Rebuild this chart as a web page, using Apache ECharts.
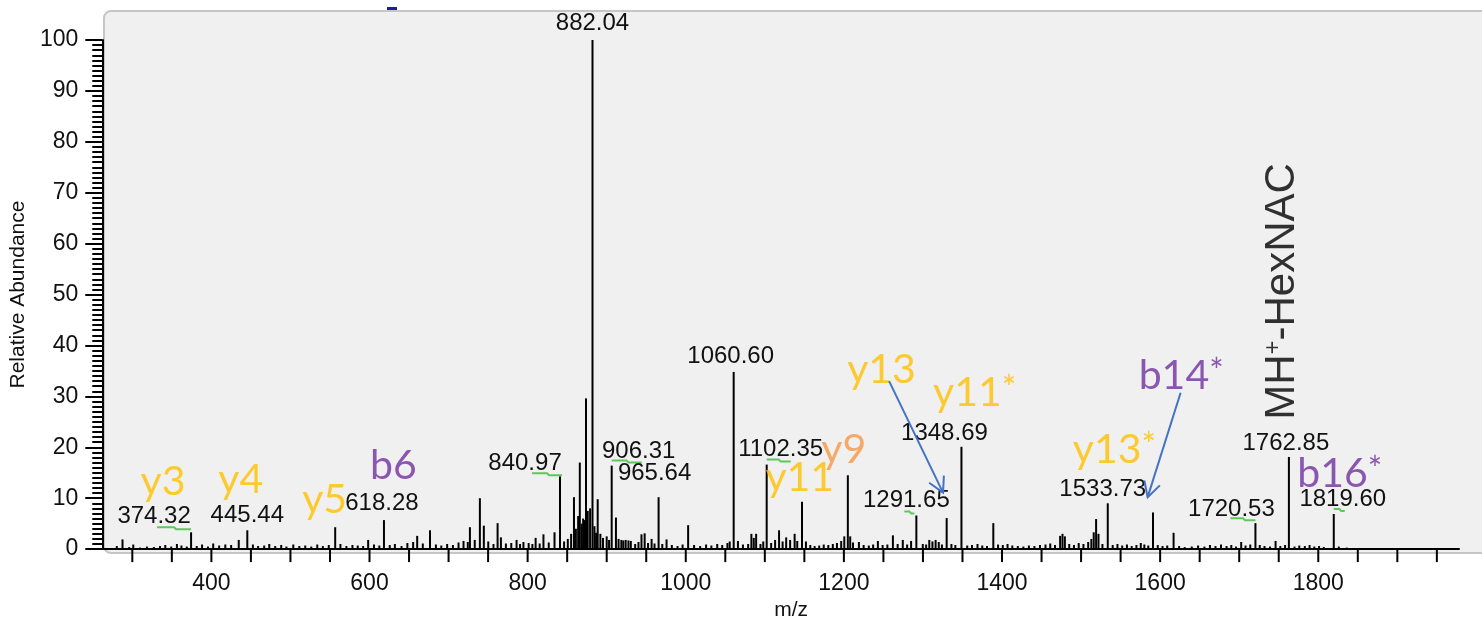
<!DOCTYPE html>
<html>
<head>
<meta charset="utf-8">
<script src="https://cdn.jsdelivr.net/npm/echarts@6/dist/echarts.min.js"></script>
<style>
  html, body { margin: 0; padding: 0; background: #fff; }
  #chart { width: 1482px; height: 626px; }
</style>
</head>
<body>
<div id="chart"></div>
<script>
(function() {
  'use strict';

  // unlabelled sticks: [m/z, relative abundance]
  var peaks = [
    [280.4, 0.6], [287.6, 1.9], [296.1, 0.4], [301.2, 0.9], [309.8, 0.3], [318.5, 0.5], [327.3, 0.4],
    [335.0, 0.6], [341.7, 0.8], [349.2, 0.5], [356.4, 1.0], [362.1, 0.7], [368.9, 0.5], [381.5, 0.6],
    [388.2, 0.9], [395.7, 0.5], [402.3, 1.1], [409.8, 0.7], [417.6, 0.9], [425.0, 0.8], [434.6, 1.8],
    [452.5, 0.9], [459.1, 0.6], [466.8, 0.7], [473.2, 1.0], [480.7, 0.6], [488.3, 0.8], [494.9, 0.5],
    [503.6, 0.9], [511.2, 0.6], [518.7, 0.7], [526.3, 0.5], [533.9, 0.9], [541.0, 0.6], [548.5, 0.8],
    [556.6, 4.3], [563.2, 1.0], [570.8, 0.6], [578.4, 0.8], [585.1, 0.7], [591.9, 0.6], [598.3, 1.8],
    [605.7, 0.9], [612.4, 0.7], [625.6, 0.8], [632.1, 1.0], [640.5, 0.6], [647.9, 1.2], [655.2, 1.4],
    [660.3, 2.6], [667.4, 1.1], [676.5, 3.7], [684.0, 0.9], [690.8, 0.7], [698.2, 1.0], [705.5, 0.8],
    [712.6, 1.3], [718.9, 1.6], [724.3, 1.4], [727.0, 4.3], [733.1, 1.8], [739.6, 10.0], [744.6, 4.6],
    [750.2, 1.5], [756.8, 1.0], [762.0, 5.1], [766.2, 2.3], [772.5, 1.1], [779.3, 1.2], [786.0, 1.8],
    [790.4, 1.0], [794.7, 1.4], [801.3, 1.2], [806.0, 1.0], [810.1, 2.2], [815.2, 1.1], [820.0, 2.9],
    [826.7, 1.3], [834.0, 3.3], [846.1, 1.5], [850.8, 2.0], [855.0, 3.0], [858.6, 10.2], [861.0, 4.0],
    [863.9, 6.5], [866.0, 17.0], [868.3, 5.0], [870.2, 6.0], [871.7, 5.7], [873.8, 29.6], [876.0, 7.5],
    [879.0, 8.0], [884.5, 4.5], [886.6, 3.2], [888.6, 9.8], [892.0, 3.0], [895.3, 2.2], [900.0, 2.5],
    [903.0, 1.8], [911.7, 6.2], [915.0, 2.0], [918.5, 1.8], [921.0, 1.7], [924.0, 1.8], [927.5, 1.7],
    [930.5, 1.6], [936.0, 1.0], [940.2, 1.4], [944.0, 2.9], [948.0, 3.1], [952.3, 1.2], [956.8, 2.0],
    [960.5, 1.1], [970.3, 1.0], [975.7, 1.9], [982.4, 0.8], [989.6, 0.6], [996.0, 0.9], [1003.0, 4.7],
    [1010.5, 0.8], [1018.2, 0.6], [1025.7, 0.9], [1032.4, 0.7], [1039.8, 1.0], [1046.1, 0.8], [1052.7, 1.2],
    [1055.6, 1.5], [1066.0, 1.6], [1072.3, 0.9], [1078.9, 1.0], [1083.0, 3.0], [1086.0, 2.2], [1089.0, 3.0],
    [1094.5, 1.0], [1098.0, 1.5], [1108.0, 1.2], [1113.0, 1.8], [1118.0, 3.7], [1122.5, 1.5], [1127.0, 2.3],
    [1132.0, 1.8], [1137.7, 3.0], [1141.0, 1.6], [1147.0, 9.3], [1152.0, 1.5], [1157.5, 0.8], [1163.0, 0.6],
    [1168.8, 0.7], [1174.5, 0.9], [1180.3, 0.8], [1186.0, 1.0], [1191.2, 1.2], [1196.6, 1.6], [1200.5, 2.5],
    [1205.0, 14.5], [1208.0, 2.5], [1211.5, 1.3], [1219.0, 1.4], [1225.0, 0.8], [1231.5, 0.7], [1237.0, 0.9],
    [1243.0, 1.6], [1249.0, 0.8], [1255.0, 0.9], [1262.0, 2.7], [1268.0, 1.0], [1274.5, 1.8], [1280.0, 0.9],
    [1285.0, 1.6], [1299.8, 1.0], [1304.0, 0.9], [1308.0, 1.8], [1312.0, 1.5], [1316.0, 1.8], [1320.0, 1.4],
    [1324.0, 0.9], [1330.0, 6.1], [1336.0, 1.0], [1341.0, 0.8], [1356.0, 0.7], [1362.0, 0.8], [1369.0, 1.0],
    [1375.0, 0.7], [1381.0, 0.6], [1389.0, 5.1], [1395.0, 0.9], [1401.0, 0.8], [1407.0, 1.0], [1413.0, 0.7],
    [1420.0, 0.6], [1427.0, 0.5], [1434.0, 0.7], [1441.0, 0.6], [1448.0, 0.8], [1455.0, 0.9], [1461.0, 1.1],
    [1467.0, 0.8], [1473.5, 2.6], [1476.5, 3.0], [1479.5, 2.5], [1485.0, 1.0], [1491.0, 0.8], [1497.0, 1.2],
    [1503.0, 1.0], [1509.0, 1.4], [1513.0, 2.0], [1516.0, 3.3], [1519.0, 5.9], [1522.0, 3.0], [1527.0, 1.0],
    [1540.0, 0.8], [1546.0, 1.0], [1552.0, 0.7], [1558.0, 0.9], [1564.0, 0.6], [1570.0, 0.8], [1575.5, 1.2],
    [1580.0, 0.9], [1585.0, 0.7], [1591.0, 7.2], [1597.0, 0.8], [1603.0, 0.6], [1609.0, 0.7], [1617.0, 3.2],
    [1624.0, 0.6], [1631.0, 0.4], [1640.0, 0.5], [1648.0, 0.7], [1656.0, 0.5], [1663.0, 0.8], [1670.0, 0.6],
    [1677.0, 0.9], [1684.0, 0.6], [1690.0, 0.8], [1696.0, 0.5], [1702.5, 1.4], [1708.0, 0.7], [1714.0, 0.9],
    [1726.0, 0.8], [1732.0, 0.6], [1739.0, 0.5], [1746.0, 1.6], [1752.0, 0.6], [1758.0, 0.8], [1770.0, 0.5],
    [1776.0, 0.7], [1783.0, 0.6], [1789.0, 0.8], [1795.0, 0.5], [1801.0, 0.6], [1807.0, 0.4], [1826.0, 0.5],
    [1836.0, 0.3], [1842.0, 0.2]
  ];

  // labelled sticks: [m/z, relative abundance]
  var labelled = [
    [374.32, 3.3], [445.44, 3.7], [618.28, 5.7], [840.97, 14.3], [882.04, 100], [906.31, 16.4],
    [965.64, 10.2], [1060.60, 34.8], [1102.35, 16.6], [1291.65, 6.6], [1348.69, 20.1], [1533.73, 9.0],
    [1720.53, 5.1], [1762.85, 18.1], [1819.60, 6.9]
  ];
  // where each mass label sits relative to its stick top (px)
  var labelShift = [
    [-37, -16], [0, -15], [-2, -17], [-35, -13], [0, -17], [27, -14],
    [-4, -24], [-3, -16], [14, -15], [-10, -15], [-17, -13], [-5, -14],
    [-24, -14], [-3, -14], [9, -15]
  ];
  // little green marks by some labels: [from dx, to dx, dy] px, null = none
  var greenMarks = [
    [-34, 0, -4], null, null, [-28, 2, -2], null, [0, 30, -4],
    null, null, [0, 24, -4], [-12, -2, -3], null, null,
    [-25, 0, -4], null, [0, 11, -4]
  ];

  var xTicks = [300, 350, 400, 450, 500, 550, 600, 650, 700, 750, 800, 850, 900, 950, 1000, 1050,
    1100, 1150, 1200, 1250, 1300, 1350, 1400, 1450, 1500, 1550, 1600, 1650, 1700, 1750, 1800, 1850,
    1900, 1950];

  // fragment annotations
  var annotText = ['y3', 'y4', 'y5', 'b6', 'y9', 'y11', 'y13', 'y11', 'y13', 'b14', 'b16'];
  var annotStar = [false, false, false, false, false, false, false, true, true, true, true];
  var annotAt = [
    [310.4, 13.3], [408.8, 13.7], [514.9, 9.6], [600.7, 16.4], [1171.4, 19.5], [1100.7, 14.1],
    [1204.2, 35.2], [1312.8, 30.7], [1489.5, 19.5], [1572.8, 34.0], [1773.5, 14.8]
  ];
  var annotColor = ['#FFC000', '#FFC000', '#FFC000', '#7030A0', '#F79646', '#FFC000', '#FFC000',
    '#FFC000', '#FFC000', '#7030A0', '#7030A0'];

  var precursorAt = [1754.6, 50.6];

  // arrows: [from m/z, from abundance, to m/z, to abundance]
  var arrows = [
    [1257.2, 33.0, 1325.4, 11.1],
    [1625.9, 30.7, 1584.2, 10.2]
  ];

  var FONT = '"Liberation Sans", Arial, sans-serif';

  function stickItem(params, api) {
    var b = api.coord([api.value(0), 0]);
    var t = api.coord([api.value(0), api.value(1)]);
    return {
      type: 'line',
      shape: { x1: b[0], y1: b[1], x2: t[0], y2: t[1] },
      style: { stroke: '#000', lineWidth: 2 }
    };
  }

  function labelledItem(params, api) {
    var i = params.dataIndex;
    var b = api.coord([api.value(0), 0]);
    var t = api.coord([api.value(0), api.value(1)]);
    var sh = labelShift[i];
    var kids = [
      { type: 'line', shape: { x1: b[0], y1: b[1], x2: t[0], y2: t[1] }, style: { stroke: '#000', lineWidth: 2 } },
      {
        type: 'text', x: t[0] + sh[0], y: t[1] + sh[1],
        style: {
          text: labelled[i][0].toFixed(2), fill: '#111', fontSize: 24, fontFamily: FONT,
          align: 'center', verticalAlign: 'middle'
        }
      }
    ];
    var g = greenMarks[i];
    if (g) {
      kids.push({
        type: 'polyline',
        shape: { points: [[t[0] + g[0], t[1] + g[2] - 1], [t[0] + (g[0] + g[1]) / 2, t[1] + g[2] - 1],
          [t[0] + (g[0] + g[1]) / 2 + 2, t[1] + g[2] + 1], [t[0] + g[1], t[1] + g[2] + 1]] },
        style: { stroke: '#5cc85c', lineWidth: 2, fill: null }
      });
    }
    return { type: 'group', children: kids };
  }

  function tickItem(params, api) {
    var p = api.coord([api.value(0), 0]);
    return {
      type: 'line',
      shape: { x1: p[0], y1: p[1], x2: p[0], y2: p[1] + 13 },
      style: { stroke: '#000', lineWidth: 2 }
    };
  }

  function arrowItem(params, api) {
    var a = api.coord([api.value(0), api.value(1)]);
    var c = api.coord([api.value(2), api.value(3)]);
    var ang = Math.atan2(c[1] - a[1], c[0] - a[0]);
    var L = 17, w = 0.5;
    var h1 = [c[0] - L * Math.cos(ang - w), c[1] - L * Math.sin(ang - w)];
    var h2 = [c[0] - L * Math.cos(ang + w), c[1] - L * Math.sin(ang + w)];
    return {
      type: 'group',
      children: [
        { type: 'line', shape: { x1: a[0], y1: a[1], x2: c[0], y2: c[1] }, style: { stroke: '#4472C4', lineWidth: 2 } },
        { type: 'polyline', shape: { points: [h1, c, h2] }, style: { stroke: '#4472C4', lineWidth: 2, fill: null } }
      ]
    };
  }

  var annotData = annotText.map(function(t, i) {
    return {
      value: annotAt[i],
      label: {
        formatter: '{a|' + t + '}' + (annotStar[i] ? '{s|*}' : ''),
        rich: {
          a: { fontFamily: 'Lato', fontSize: 41, color: annotColor[i] },
          s: { fontFamily: 'Lato', fontSize: 34, color: annotColor[i], verticalAlign: 'top', lineHeight: 30 }
        }
      }
    };
  });

  var chart = echarts.init(document.getElementById('chart'));
  chart.setOption({
    backgroundColor: '#fff',
    animation: false,
    grid: { left: 100, right: 23, top: 40, bottom: 74 },
    graphic: [
      {
        type: 'rect', z: -10, silent: true,
        shape: { x: 104, y: 11, width: 1392, height: 542, r: [7, 0, 0, 7] },
        style: { fill: '#f0f0f0', stroke: '#c6c6c6', lineWidth: 2 }
      },
      {
        type: 'rect', z: 10, silent: true,
        shape: { x: 387, y: 7, width: 10, height: 3 },
        style: { fill: '#1c1ca8' }
      }
    ],
    xAxis: {
      type: 'value', min: 262, max: 1978, splitNumber: 8,
      axisLine: { lineStyle: { color: '#000', width: 2 } },
      axisTick: { show: false },
      splitLine: { show: false },
      axisLabel: {
        color: '#111', fontSize: 23, fontFamily: FONT, margin: 23,
        showMinLabel: false, showMaxLabel: false,
        formatter: function(v) { return String(v); }
      },
      name: 'm/z', nameLocation: 'middle', nameGap: 45,
      nameTextStyle: { color: '#111', fontSize: 21, fontFamily: FONT, padding: [0, 0, 0, 21] }
    },
    yAxis: {
      type: 'value', min: 0, max: 100, interval: 10,
      axisLine: { show: true, lineStyle: { color: '#000', width: 2 } },
      axisTick: { show: true, length: 17, lineStyle: { color: '#000', width: 2 } },
      minorTick: { show: true, splitNumber: 10, length: 10, lineStyle: { color: '#000', width: 2 } },
      splitLine: { show: false },
      axisLabel: { color: '#111', fontSize: 23, fontFamily: FONT, margin: 24 },
      name: 'Relative Abundance', nameLocation: 'middle', nameGap: 65,
      nameTextStyle: { color: '#111', fontSize: 21, fontFamily: FONT }
    },
    series: [
      { type: 'custom', clip: false, renderItem: tickItem, data: xTicks.map(function(v) { return [v]; }), silent: true },
      { type: 'custom', renderItem: stickItem, data: peaks, silent: true },
      { type: 'custom', clip: false, renderItem: labelledItem, data: labelled, silent: true, z: 3 },
      {
        type: 'scatter', symbolSize: 0, data: annotData, silent: true, z: 4,
        label: { show: true, position: 'right', distance: 0 }
      },
      {
        type: 'scatter', symbolSize: 0, silent: true, z: 4,
        data: [precursorAt],
        label: {
          show: true, position: 'inside', rotate: 90,
          formatter: '{a|MH}{s|+}{a|-HexNAC}',
          rich: {
            a: { fontFamily: FONT, fontSize: 42, color: '#000' },
            s: { fontFamily: FONT, fontSize: 24, color: '#000', verticalAlign: 'top' }
          }
        }
      },
      { type: 'custom', clip: false, renderItem: arrowItem, data: arrows, silent: true, z: 5 }
    ]
  });

  window.addEventListener('resize', function() { chart.resize(); });
})();
</script>
</body>
</html>
